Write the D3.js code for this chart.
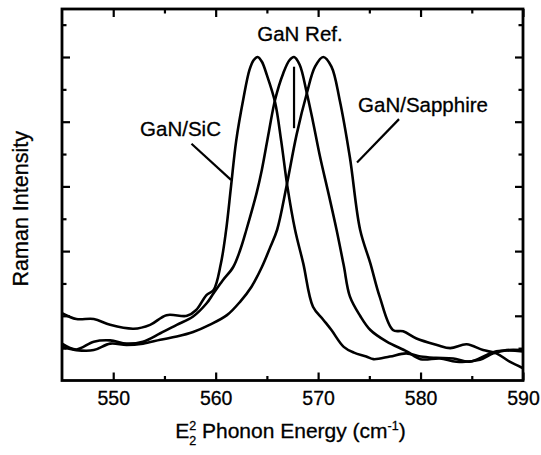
<!DOCTYPE html>
<html><head><meta charset="utf-8">
<script src="https://cdn.jsdelivr.net/npm/d3@7"></script>
<style>
body{margin:0;background:#fff}
svg{display:block}
text{font-family:"Liberation Sans",Arial,Helvetica,sans-serif;fill:#000}
</style>
</head><body>
<svg id="c" width="541" height="455"></svg>
<script>
// ---- tick values ----
const xMajor = [550, 560, 570, 580, 590];
const xMinor = [555, 565, 575, 585];
const yMajor = [1, 2, 3, 4, 5];
const yMinor = [0.5, 1.5, 2.5, 3.5, 4.5, 5.5];

// ---- series (Raman shift cm-1, normalised intensity) ----
const sicX = [545, 546.4, 548.1, 549.7, 552.0, 553.6, 555.2, 557.2, 558.1, 559.1, 559.8, 560.5, 561.0, 561.5, 562.0, 562.7, 563.3, 563.7, 564.1, 564.5, 565.0, 565.8, 566.4, 567.0, 567.75, 568.55, 569.5, 570.5, 571.3, 572.5, 573.5, 574.7, 575.4, 577.0, 578.6, 580.0, 581.5, 583.2, 584.8, 587.4, 590];
const sicY = [1.04, 0.95, 0.95, 0.86, 0.80, 0.86, 1.01, 1.00, 1.09, 1.32, 1.40, 1.80, 2.30, 3.00, 3.70, 4.35, 4.80, 4.95, 5.00, 4.93, 4.72, 4.30, 3.70, 3.00, 2.33, 1.81, 1.14, 0.94, 0.78, 0.52, 0.43, 0.37, 0.33, 0.37, 0.42, 0.37, 0.35, 0.34, 0.29, 0.45, 0.45];

const refX = [545, 546.4, 548.1, 549.7, 551.3, 552.9, 554.6, 556.2, 557.8, 559.1, 559.8, 560.7, 561.7, 562.4, 563.0, 564.0, 564.5, 565.2, 565.8, 566.6, 567.2, 567.65, 568.2, 568.9, 569.5, 570.2, 571.0, 571.8, 572.5, 573.1, 574.1, 575.1, 576.7, 578.65, 580.0, 581.9, 583.5, 585.8, 587.1, 588.4, 590];
const refY = [0.57, 0.48, 0.60, 0.62, 0.57, 0.60, 0.73, 0.86, 0.99, 1.19, 1.35, 1.55, 1.75, 2.02, 2.33, 2.90, 3.25, 3.85, 4.34, 4.75, 4.95, 5.00, 4.88, 4.44, 4.00, 3.45, 2.90, 2.33, 1.78, 1.30, 1.00, 0.78, 0.60, 0.45, 0.33, 0.34, 0.29, 0.32, 0.42, 0.47, 0.47];

const sapX = [545, 546.4, 548.1, 549.7, 551.3, 552.9, 554.6, 556.2, 557.8, 559.4, 561.1, 562.4, 563.5, 564.5, 565.3, 566.0, 566.9, 567.9, 568.9, 569.7, 570.5, 571.3, 572.1, 573.1, 574.1, 575.1, 576.0, 577.3, 578.3, 579.6, 581.6, 582.9, 584.5, 586.1, 587.4, 588.7, 590];
const sapY = [0.52, 0.47, 0.47, 0.57, 0.55, 0.57, 0.63, 0.68, 0.75, 0.86, 1.01, 1.22, 1.45, 1.75, 2.05, 2.33, 2.99, 3.80, 4.44, 4.85, 5.00, 4.85, 4.34, 3.45, 2.33, 1.81, 1.30, 0.78, 0.76, 0.65, 0.55, 0.50, 0.56, 0.47, 0.42, 0.29, 0.19];

const seriesNames = ["GaN/SiC", "GaN Ref.", "GaN/Sapphire"];

// ---- layout ----
const L = 62, R = 523, T = 9, B = 380.5;
const svg = d3.select("#c");
const x = d3.scaleLinear().domain([545, 590]).range([L, R]);
const y = d3.scaleLinear().domain([0, 5.742]).range([B, T]);

// ---- curves ----
const line = d3.line().x(d => x(d[0])).y(d => y(d[1])).curve(d3.curveCatmullRom.alpha(0.5));
const series = [
  d3.zip(sicX, sicY),
  d3.zip(refX, refY),
  d3.zip(sapX, sapY)
];
svg.append("clipPath").attr("id", "pc").append("rect")
  .attr("x", L).attr("y", T).attr("width", R - L).attr("height", B - T);
svg.append("g").attr("clip-path", "url(#pc)")
  .selectAll("path").data(series).join("path")
  .attr("d", line).attr("fill", "none").attr("stroke", "#000")
  .attr("stroke-width", 2.6).attr("stroke-linejoin", "round");

// ---- axes (ticks inward on all four sides) ----
function ax(gen, tr, vals, size, labels) {
  const a = gen.tickValues(vals).tickSize(-size).tickPadding(11)
    .tickFormat(labels ? d3.format("d") : "");
  const g = svg.append("g").attr("transform", tr).call(a);
  g.select(".domain").remove();
  g.selectAll(".tick line").attr("stroke", "#000").attr("stroke-width", 2.2);
  g.selectAll("text").attr("font-size", 19.5).attr("fill", "#000")
    .attr("stroke", "#000").attr("stroke-width", 0.3);
  return g;
}
ax(d3.axisBottom(x), `translate(0,${B})`, xMajor, 8, true);
ax(d3.axisBottom(x), `translate(0,${B})`, xMinor, 4.5, false);
ax(d3.axisTop(x), `translate(0,${T})`, xMajor, 8, false);
ax(d3.axisTop(x), `translate(0,${T})`, xMinor, 4.5, false);
ax(d3.axisLeft(y), `translate(${L},0)`, yMajor, 8, false);
ax(d3.axisLeft(y), `translate(${L},0)`, yMinor, 4.5, false);
ax(d3.axisRight(y), `translate(${R},0)`, yMajor, 8, false);
ax(d3.axisRight(y), `translate(${R},0)`, yMinor, 4.5, false);

svg.append("rect").attr("x", L).attr("y", T).attr("width", R - L).attr("height", B - T)
  .attr("fill", "none").attr("stroke", "#000").attr("stroke-width", 2.8);

// ---- axis titles ----
const xt = svg.append("text").attr("x", x(567.3)).attr("y", 438)
  .attr("text-anchor", "middle").attr("font-size", 21)
  .attr("stroke", "#000").attr("stroke-width", 0.3);
xt.append("tspan").text("E");
xt.append("tspan").attr("font-size", 12.5).attr("dy", -8.5).text("2");
xt.append("tspan").attr("font-size", 12.5).attr("dx", -7).attr("dy", 15).text("2");
xt.append("tspan").attr("dy", -6.5).text(" Phonon Energy (cm");
xt.append("tspan").attr("font-size", 12.5).attr("dy", -8.5).text("-1");
xt.append("tspan").attr("dy", 8.5).text(")");

svg.append("text").attr("transform", `translate(28,${(T + B) / 2 + 14}) rotate(-90)`)
  .attr("text-anchor", "middle").attr("font-size", 21.5)
  .attr("stroke", "#000").attr("stroke-width", 0.3).text("Raman Intensity");

// ---- annotations ----
const ann = svg.append("g").attr("stroke", "#000");
const labs = [[556.57, 3.78], [568.23, 5.25], [580.24, 4.15]];
ann.selectAll("text").data(labs).join("text")
  .attr("x", d => x(d[0])).attr("y", d => y(d[1])).attr("text-anchor", "middle")
  .attr("font-size", 20.5).attr("stroke-width", 0.3)
  .text((d, i) => seriesNames[i]);
const lines = [
  [[557.64, 3.66], [561.5, 3.1]],
  [[567.65, 4.85], [567.65, 3.9]],
  [[577.9, 4.04], [573.8, 3.37]]
];
ann.selectAll("line").data(lines).join("line")
  .attr("x1", d => x(d[0][0])).attr("y1", d => y(d[0][1]))
  .attr("x2", d => x(d[1][0])).attr("y2", d => y(d[1][1]))
  .attr("stroke-width", 2.2);
</script>
</body></html>
